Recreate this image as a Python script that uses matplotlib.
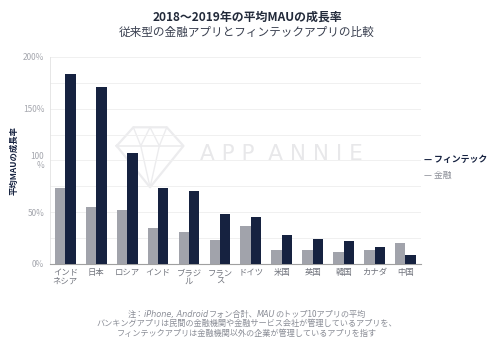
import matplotlib.pyplot as plt
import numpy as np

plt.rcParams['font.family'] = ['Noto Sans CJK JP', 'DejaVu Sans']

countries = ["インド\nネシア", "日本", "ロシア", "インド", "ブラジ\nル", "フラン\nス",
             "ドイツ", "米国", "英国", "韓国", "カナダ", "中国"]
finance = [73, 55, 52, 35, 31, 23, 37, 13, 13, 12, 13, 20]
fintech = [183, 171, 107, 73, 70, 48, 45, 28, 24, 22, 16, 9]
yticks = [0, 50, 100, 150, 200]
ytick_labels = ["0%", "50%", "100\n%", "150%", "200%"]

navy = '#162240'
grey = '#a1a3ab'
note_col = '#8a8d96'

fig = plt.figure(figsize=(4.94, 3.51), dpi=100)
ax = fig.add_axes([0.101, 0.248, 0.751, 0.59])

x = np.arange(len(countries))
w = 0.335
ax.bar(x - w / 2, finance, w, color=grey, zorder=3)
ax.bar(x + w / 2, fintech, w, color=navy, zorder=3)

ax.set_xlim(-0.5, len(countries) - 0.5)
ax.set_ylim(0, 200)
ax.set_yticks(yticks)
ax.set_yticklabels(ytick_labels, fontsize=6, color='#a5a7ae', linespacing=0.9)
ax.set_yticks(range(0, 201, 25), minor=True)
ax.grid(axis='y', which='both', color='#f0f0f0', lw=0.7, zorder=0)
ax.tick_params(axis='y', which='both', length=0, pad=4)
ax.set_xticks(x)
ax.set_xticklabels(countries, fontsize=6, color='#70737c', linespacing=1.0)
ax.tick_params(axis='x', length=0, pad=3)
for s in ['top', 'right']:
    ax.spines[s].set_visible(False)
ax.spines['left'].set_color('#e2e2e2')
ax.spines['bottom'].set_color('#a0a0a0')
ax.spines['left'].set_linewidth(0.6)
ax.spines['bottom'].set_linewidth(0.8)

# watermark
wm = '#ececee'
ax.plot([0.18, 0.225, 0.315, 0.36, 0.27, 0.18], [0.57, 0.66, 0.66, 0.57, 0.37, 0.57],
        transform=ax.transAxes, color=wm, lw=1.6, zorder=1)
ax.plot([0.18, 0.36], [0.57, 0.57], transform=ax.transAxes, color=wm, lw=1.2, zorder=1)
ax.plot([0.225, 0.245, 0.27, 0.295, 0.315], [0.66, 0.57, 0.66, 0.57, 0.66],
        transform=ax.transAxes, color=wm, lw=1.0, zorder=1)
ax.plot([0.245, 0.27, 0.295], [0.57, 0.37, 0.57], transform=ax.transAxes, color=wm, lw=1.0, zorder=1)
ax.text(0.405, 0.53, "A P P  A N N I E", transform=ax.transAxes, fontsize=15.5,
        color='#e8e8ea', family='DejaVu Sans', va='center', zorder=1)

ax.set_ylabel("平均MAUの成長率", fontsize=6, fontweight='bold', color=navy, labelpad=3)

fig.text(0.5, 0.951, "2018～2019年の平均MAUの成長率", ha='center', va='center',
         fontsize=8.6, fontweight='bold', color='#222a3a')
fig.text(0.5, 0.908, "従来型の金融アプリとフィンテックアプリの比較", ha='center', va='center',
         fontsize=8.4, color='#3a4050')

fig.text(0.858, 0.547, "— フィンテック", fontsize=6.4, fontweight='bold', color=navy, va='center')
fig.text(0.858, 0.501, "— 金融", fontsize=6.4, color=note_col, va='center')

# footnote, first line mixes upright and italic parts
parts = [("注：", 'normal'), ("iPhone, Android", 'italic'), ("フォン合計、", 'normal'),
         ("MAU", 'italic'), ("のトップ10アプリの平均", 'normal')]
notes = ["バンキングアプリは民間の金融機関や金融サービス会社が管理しているアプリを、",
         "フィンテックアプリは金融機関以外の企業が管理しているアプリを指す"]

renderer = fig.canvas.get_renderer()
pieces = []
for s, st in parts:
    fam = ['DejaVu Sans'] if st == 'italic' else ['Noto Sans CJK JP', 'DejaVu Sans']
    t = fig.text(0, 0.105, s, fontsize=5.9, color=note_col, style=st, family=fam,
                 va='center', ha='left')
    pieces.append(t)
widths = [p.get_window_extent(renderer).width / fig.bbox.width for p in pieces]
xpos = 0.5 - sum(widths) / 2
for p, wd in zip(pieces, widths):
    p.set_x(xpos)
    xpos += wd

for i, line in enumerate(notes):
    fig.text(0.5, 0.077 - i * 0.028, line, ha='center', va='center', fontsize=5.9, color=note_col)

fig.savefig('out.png', dpi=100)
